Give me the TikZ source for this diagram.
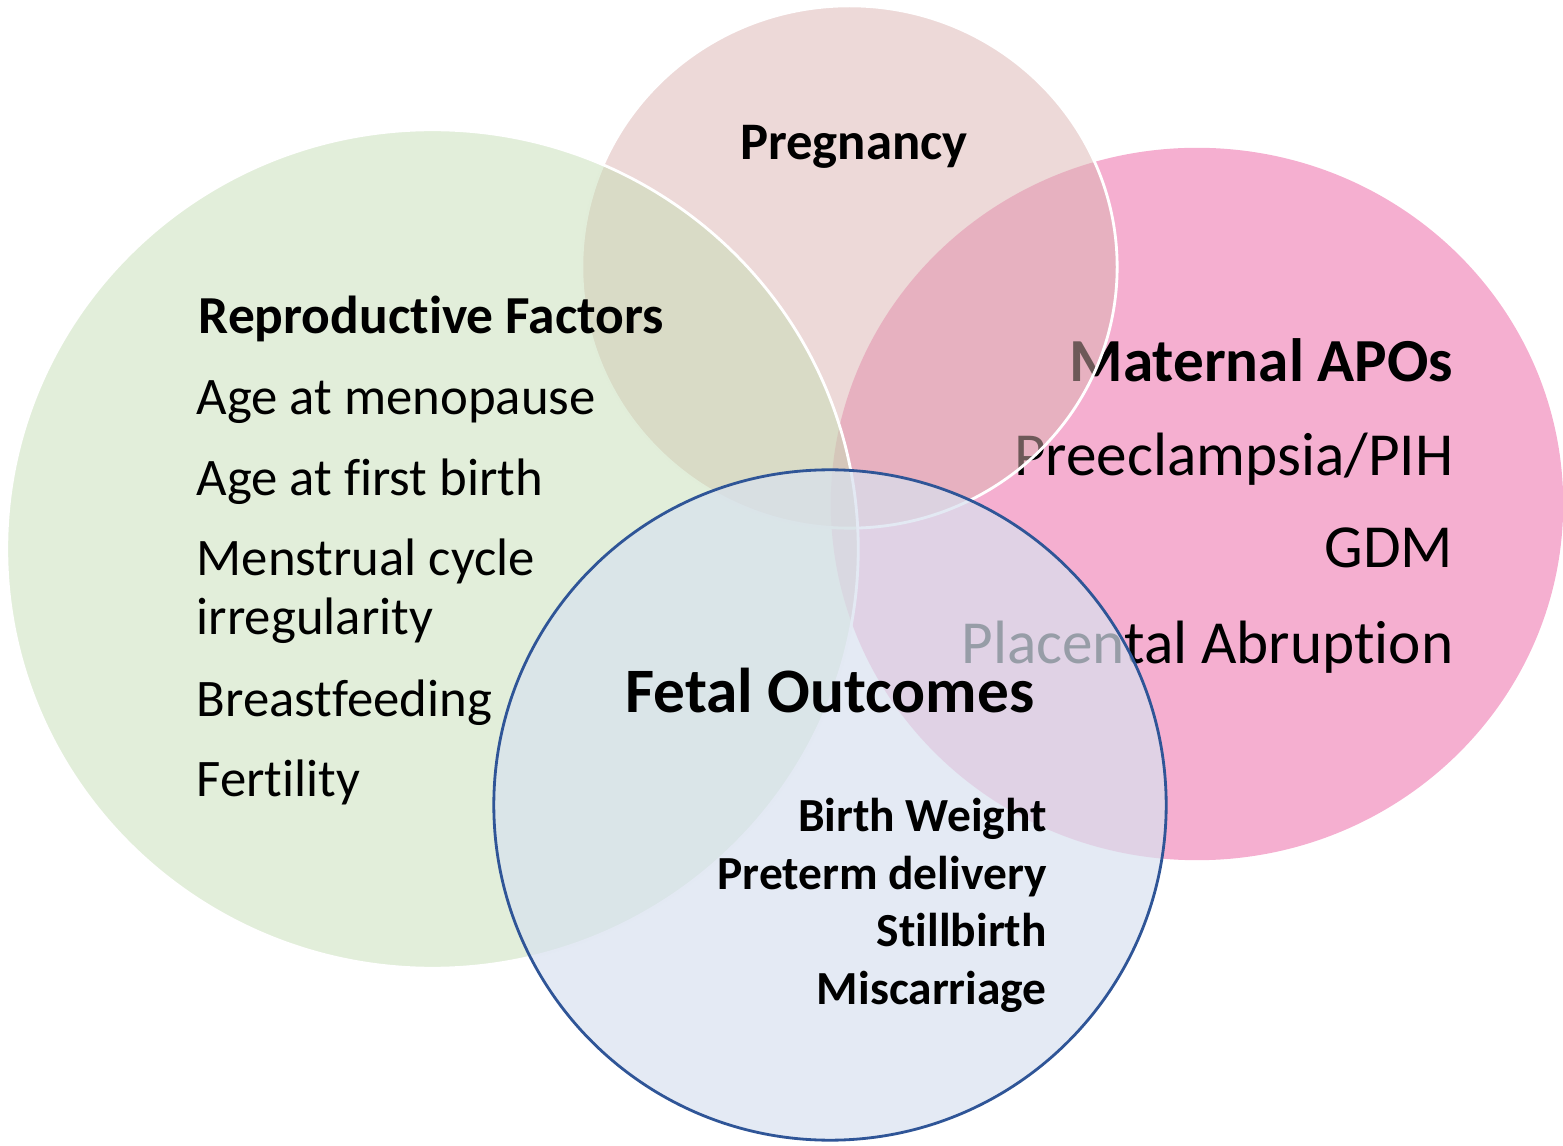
\documentclass[tikz,border=0pt]{standalone}
\usepackage{fontspec}
\setmainfont{Carlito}[Ligatures={NoCommon,NoContextual}]
\usepackage{xcolor}
\usepackage{tikz}
\usetikzlibrary{positioning}
\definecolor{rfgreen}  {HTML}{C5DDB5}
\definecolor{apopink}  {HTML}{F5AFD0}
\definecolor{pgrose}   {HTML}{DBB3B1}
\definecolor{fofill}   {HTML}{D8E1EF}
\definecolor{foline}   {HTML}{2F5597}

\begin{document}
\begin{tikzpicture}[
  x=0.01cm, y=-0.01cm,
  every node/.style={inner sep=0pt, text=black},
  phead/.style={anchor=base, font=\fontsize{15}{18}\selectfont\bfseries},
  lhead/.style={anchor=base west, font=\fontsize{15.2}{18}\selectfont\bfseries},
  litem/.style={anchor=base west, font=\fontsize{15}{18}\selectfont},
  rhead/.style={anchor=base east, font=\fontsize{17.4}{20}\selectfont\bfseries},
  ritem/.style={anchor=base east, font=\fontsize{17.4}{20}\selectfont},
  fhead/.style={anchor=base, font=\fontsize{18}{22}\selectfont\bfseries},
  fitem/.style={anchor=base east, font=\fontsize{13.5}{16}\selectfont\bfseries},
]
\useasboundingbox (0,0) rectangle (1563,1146);

% maternal APOs, under the other sets
\fill[apopink] (1197,504) ellipse (3.66cm and 3.56cm);
\node[rhead] (ma)  at (1454,382) {Maternal APOs};
\node[ritem] (ma1) at (1454,476) {Preeclampsia/PIH};
\node[ritem] (ma2) at (1454,568) {GDM};
\node[ritem] (ma3) at (1454,663) {Placental Abruption};

% pregnancy (its rim is hidden under the green set)
\fill[pgrose, fill opacity=.5] (849.5,267) ellipse (2.675cm and 2.61cm);
\begin{scope}
  \clip (0,0) rectangle (1563,1146) (432.5,549) ellipse (4.255cm and 4.19cm);
  \draw[white, line width=0.8pt] (849.5,267) ellipse (2.675cm and 2.61cm);
\end{scope}

% reproductive factors, fetal outcomes
\filldraw[fill=rfgreen, fill opacity=.5, draw=white, line width=0.8pt]
  (432.5,549) ellipse (4.255cm and 4.19cm);
\filldraw[fill=fofill, fill opacity=.7, draw=foline, line width=0.8pt]
  (830,805) ellipse (3.36cm and 3.35cm);

\node[phead] (preg) at (854,160) {Pregnancy};

\node[lhead] (rf)  at (198,334) {Reproductive Factors};
\node[litem] (rf1) at (196,415) {Age at menopause};
\node[litem] (rf2) at (196,496) {Age at first birth};
\node[litem] (rf3) at (196,576) {Menstrual cycle};
\node[litem] (rf4) at (196,635) {irregularity};
\node[litem] (rf5) at (196,717) {Breastfeeding};
\node[litem] (rf6) at (196,797) {Fertility};

\node[fhead] (fo)  at (830,712) {Fetal Outcomes};
\node[fitem] (fo1) at (1047.5,831) {Birth Weight};
\node[fitem] (fo2) at (1047.5,889) {Preterm delivery};
\node[fitem] (fo3) at (1047.5,946) {Stillbirth};
\node[fitem] (fo4) at (1047.5,1004) {Miscarriage};
\end{tikzpicture}
\end{document}
